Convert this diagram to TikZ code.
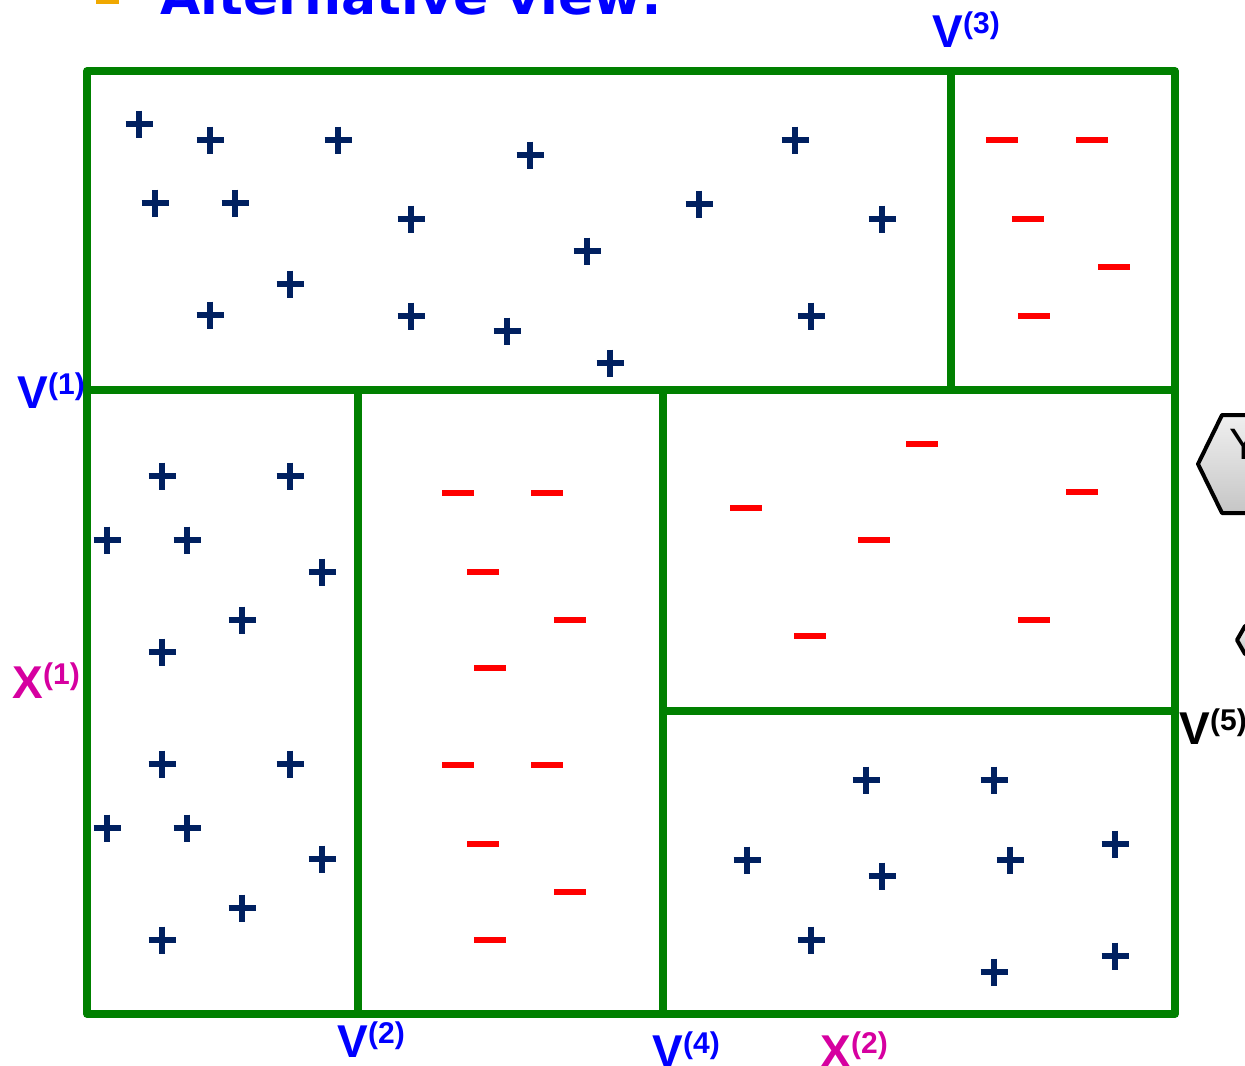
\documentclass[tikz,border=0pt]{standalone}
\usepackage{fontspec}
\setmainfont{Liberation Sans}
\newfontfamily\titlefont{DejaVu Sans}

\definecolor{cellgreen}{RGB}{0,128,0}
\definecolor{plusnavy}{RGB}{0,32,96}
\definecolor{vblue}{RGB}{0,0,255}
\definecolor{xmagenta}{RGB}{214,0,160}
\definecolor{bulletorange}{RGB}{240,168,0}

\tikzset{every picture/.style={line width=0.75pt}}
\tikzset{
  cellline/.style={draw=cellgreen, line width=5.6pt, line join=round},
  plusmark/.style={draw=plusnavy, line width=4.9pt},
  minusmark/.style={draw=red, line width=4.5pt},
  hexbox/.style={draw=black, line width=3pt, line join=round, top color=gray!12, bottom color=gray!45},
  vlab/.style={anchor=base west, inner sep=0pt, font=\fontsize{34.5}{34.5}\selectfont\bfseries}
}
\newcommand{\suplab}[1]{\raisebox{10.5pt}{\fontsize{22.5}{22.5}\selectfont(#1)}}

\begin{document}
\begin{tikzpicture}[x=0.75pt,y=0.75pt,yscale=-1,xscale=1]
\useasboundingbox (0,0) rectangle (1245,1065);
\clip (0,0) rectangle (1245,1065);

%Title (cut off at the top)
\fill[bulletorange] (96,-19) rectangle (119,4);
\draw (160,14) node (title) [anchor=base west][inner sep=0pt][text=vblue, font=\titlefont\fontsize{39}{39}\selectfont\bfseries] {Alternative view:};

%Shape: Hexagon [id:hex1]
\draw[hexbox] (1198,464) -- (1222,415) -- (1300,415) -- (1324,464) -- (1300,513) -- (1222,513) -- cycle ;
\draw (1229,459) node (yhex) [anchor=base west][inner sep=0pt][font=\fontsize{33}{33}\selectfont] {Y};
%Shape: Hexagon [id:hex2]
\draw[hexbox] (1237,640) -- (1245,626) -- (1300,626) -- (1308,640) -- (1300,654) -- (1245,654) -- cycle ;

%Shape: Rectangle [id:outer]
\draw[cellline] (87,71) rectangle (1175,1014) ;
%Straight Lines
\draw[cellline] (87,390) -- (1175,390) ;
\draw[cellline] (951,71) -- (951,390) ;
\draw[cellline] (358,390) -- (358,1014) ;
\draw[cellline] (663,390) -- (663,1014) ;
\draw[cellline] (663,711) -- (1175,711) ;

%Plus points
\foreach \x/\y in {139/124,210/140,338/140,530/155,795/140,155/203,235/203,411/219,699/204,882/219,587/251,290/284,210/315,411/316,507/331,610/363,811/316,
  162/476,290/476,107/540,187/540,322/572,242/620,162/652,162/764,290/764,107/828,187/828,322/859,242/908,162/940,
  866/780,994/780,747/860,882/876,1010/860,1115/844,811/940,994/972,1115/956}
  \draw[plusmark] (\x-13.5,\y) -- ++(27,0) (\x,\y-13.5) -- ++(0,27) ;

%Minus points
\foreach \x/\y in {1002/140,1092/140,1028/219,1114/267,1034/316,
  458/493,547/493,483/572,570/620,490/668,458/765,547/765,483/844,570/892,490/940,
  922/444,1082/492,746/508,874/540,810/636,1034/620}
  \draw[minusmark] (\x-16,\y) -- ++(32,0) ;

% Text Node
\draw (932,47) node (v3) [vlab][text=vblue] {V\suplab{3}};
% Text Node
\draw (17,408) node (v1) [vlab][text=vblue] {V\suplab{1}};
% Text Node
\draw (12,698) node (x1) [vlab][text=xmagenta] {X\suplab{1}};
% Text Node
\draw (337,1057) node (v2) [vlab][text=vblue] {V\suplab{2}};
% Text Node
\draw (652,1067) node (v4) [vlab][text=vblue] {V\suplab{4}};
% Text Node
\draw (820,1067) node (x2) [vlab][text=xmagenta] {X\suplab{2}};
% Text Node
\draw (1179,744) node (v5) [vlab][text=black] {V\suplab{5}};

\end{tikzpicture}
\end{document}
